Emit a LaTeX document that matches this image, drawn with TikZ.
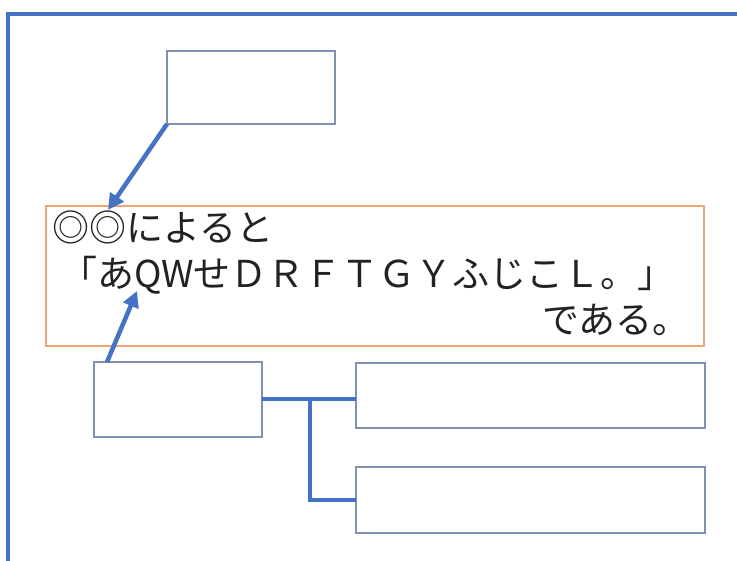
\documentclass[tikz,border=0pt]{standalone}
\usepackage{fontspec}
\setmainfont{Noto Sans CJK JP}
\usepackage{xcolor}
\usetikzlibrary{arrows.meta}

\definecolor{frameblue}{RGB}{68,114,196}
\definecolor{boxgray}{RGB}{128,146,180}
\definecolor{boxorange}{RGB}{238,166,118}
\definecolor{ink}{RGB}{34,34,34}

\begin{document}
\begin{tikzpicture}[x=1pt,y=-1pt,
        box/.style={draw=boxgray,line width=1.5pt,inner sep=0pt,outer sep=0pt},
        quote/.style={draw=boxorange,line width=1.5pt,inner sep=0pt,outer sep=0pt},
        line/.style={inner sep=0pt,text=ink,font=\fontsize{37}{40}\selectfont},
        link/.style={draw=frameblue,line width=4pt},
        pointer/.style={draw=frameblue,line width=4.5pt,-{Triangle[length=16pt,width=16pt]}}]
            \useasboundingbox (0,0) rectangle (737,561);
            % outer frame
            \draw [frameblue,line width=4.5pt] (8,561) -- (8,14) -- (737,14);

            \node (topbox) at (251,87.5) [box,minimum width=168pt,minimum height=73pt] {};
            \node (quotebox) at (375,276) [quote,minimum width=658pt,minimum height=140pt] {};
            \node (srcbox) at (178,399.5) [box,minimum width=168pt,minimum height=75pt] {};
            \node (rightA) at (530.5,395.5) [box,minimum width=349pt,minimum height=65pt] {};
            \node (rightB) at (530.5,500) [box,minimum width=349pt,minimum height=66pt] {};

            \node (line1) at (52,242) [line,anchor=base west] {◎◎によると};
            \node (line2) at (60,288) [line,anchor=base west] {「あQWせＤＲＦＴＧＹふじこＬ。」};
            \node (line3) at (690,334) [line,anchor=base east] {である。};

            \coordinate (tipA) at (108,210);
            \coordinate (tipB) at (137,291);
            \draw [pointer] (topbox.south west) -- (tipA);
            \draw [pointer] ([xshift=13pt]srcbox.north west) -- (tipB);

            \coordinate (fork) at (310,399.5);
            \draw [link] (srcbox.east) -- (srcbox.east -| rightA.west);
            \draw [link] (fork) |- (rightB.west);

\end{tikzpicture}
\end{document}
